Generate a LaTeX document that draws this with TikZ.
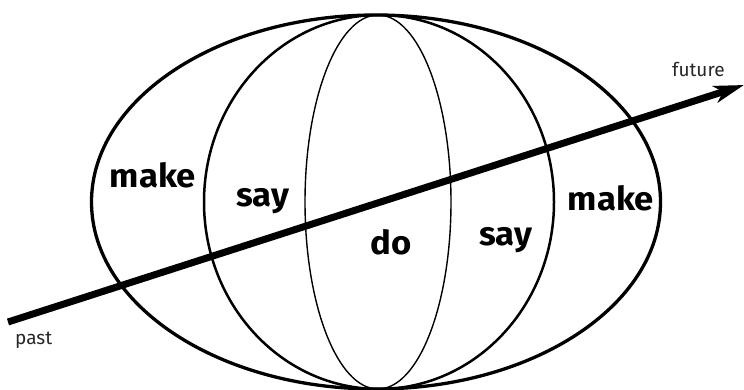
\documentclass[tikz,border=0pt]{standalone}
\usepackage{fontspec}
\setmainfont{Fira Sans}
\usetikzlibrary{arrows.meta}
\begin{document}
\begin{tikzpicture}[x=1pt,y=-1pt,
  ring/.style={draw=black},
  big/.style={font=\fontsize{33}{36}\selectfont\bfseries\addfontfeature{FakeStretch=1.05}, inner sep=0pt, anchor=base},
  small/.style={font=\fontsize{19}{21}\selectfont, inner sep=0pt, anchor=base west, text=black!85}]
\useasboundingbox (0,0) rectangle (744,390);
\draw[ring, line width=3.3pt] (376,202) ellipse [x radius=284.5, y radius=187];
\draw[ring, line width=2.5pt] (379,202) ellipse [x radius=175, y radius=187];
\draw[ring, line width=1.4pt] (378,202) ellipse [x radius=73, y radius=187];
\coordinate (start) at (8,322);
\coordinate (end) at (744,85);
\draw[line width=7pt, -{Stealth[length=30pt,width=17pt,inset=8pt]}] (start) -- (end);
\node[big] (make1) at (153,188) {make};
\node[big] (say1) at (263,207) {say};
\node[big] (do) at (391,254) {do};
\node[big] (say2) at (506,245) {say};
\node[big] (make2) at (611,211) {make};
\node[small] (past) at (15,344) {past};
\node[small] (future) at (672,77) {future};
\end{tikzpicture}
\end{document}
